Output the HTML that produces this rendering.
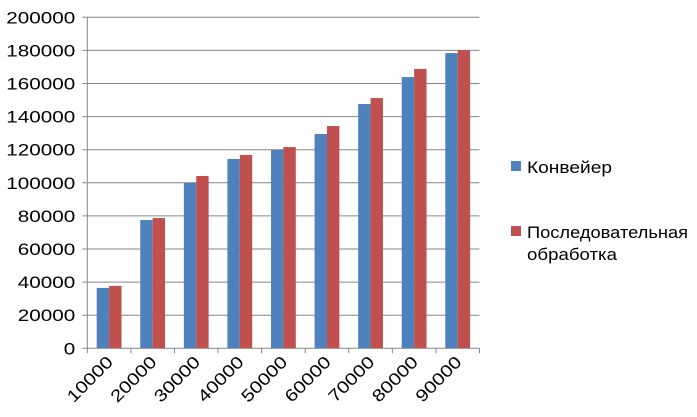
<!DOCTYPE html>
<html><head><meta charset="utf-8"><style>
html,body{margin:0;padding:0;background:#fff;}
svg{display:block;font-family:"Liberation Sans",sans-serif;}
</style></head><body>
<svg id="chart" width="697" height="417">
<g id="grid"></g>
<g id="bars"></g>
<g id="axes"></g>
<g>
<rect x="511" y="161" width="10" height="10" fill="#4f81bd"/>
<text x="527" y="173" font-size="17" textLength="85" lengthAdjust="spacingAndGlyphs" fill="#000">Конвейер</text>
<rect x="511" y="226" width="10" height="10" fill="#c0504d"/>
<text x="527" y="238" font-size="17" textLength="161" lengthAdjust="spacingAndGlyphs" fill="#000">Последовательная</text>
<text x="527" y="260" font-size="17" textLength="90" lengthAdjust="spacingAndGlyphs" fill="#000">обработка</text>
</g>
</svg>
<script>
const categories=["10000","20000","30000","40000","50000","60000","70000","80000","90000"];
const conveyor=[36500,77500,100000,114400,120000,129500,147600,163900,178400];
const sequential=[37700,78700,104100,116800,121600,134300,151200,168800,180200];
const yTicks=[0,20000,40000,60000,80000,100000,120000,140000,160000,180000,200000];
const NS="http://www.w3.org/2000/svg";
const x0=87.3,x1=479.5,yTop=17.3,yBot=348.3,yMax=200000;
const cw=(x1-x0)/categories.length, bw=12.4;
function yS(v){return yBot-(v/yMax)*(yBot-yTop);}
function xS(i){return x0+i*cw;}
function mk(tag,attrs,parent){const e=document.createElementNS(NS,tag);for(const k in attrs)e.setAttribute(k,attrs[k]);parent.appendChild(e);return e;}
const grid=document.getElementById('grid'),bars=document.getElementById('bars'),axes=document.getElementById('axes');
yTicks.forEach(t=>{
  const y=yS(t);
  const l=mk('line',{x1:x0-5,x2:x1,y1:y,y2:y,stroke:'#868686','stroke-width':1},grid);
  
  
  const s=String(t);
  const tx=mk('text',{x:x0-12,y:y+6,'text-anchor':'end','font-size':17,fill:'#000',textLength:s.length*11.5,lengthAdjust:'spacingAndGlyphs'},axes);
  tx.textContent=s;
  
  
});
categories.forEach((c,i)=>{
  const gap=(cw-2*bw)/2;
  const b1=mk('rect',{x:xS(i)+gap,y:yS(conveyor[i]),width:bw,height:yBot-yS(conveyor[i]),fill:'#4f81bd'},bars);
  
  
  const b2=mk('rect',{x:xS(i)+gap+bw,y:yS(sequential[i]),width:bw,height:yBot-yS(sequential[i]),fill:'#c0504d'},bars);
  
  
  const cx=xS(i)+cw/2+5, cy=363;
  const tx=mk('text',{x:cx,y:cy,'text-anchor':'end','font-size':17,fill:'#000',textLength:57,lengthAdjust:'spacingAndGlyphs',transform:`rotate(-45 ${cx} ${cy})`},axes);
  tx.textContent=c;
  
  
});
for(let i=0;i<=categories.length;i++){
  const x=xS(i);
  const t=mk('line',{x1:x,x2:x,y1:yBot,y2:yBot+5,stroke:'#868686','stroke-width':1},axes);
  
  
}
const ya=mk('line',{x1:x0,x2:x0,y1:yTop,y2:yBot,stroke:'#868686','stroke-width':1},axes);


</script>
</body></html>
